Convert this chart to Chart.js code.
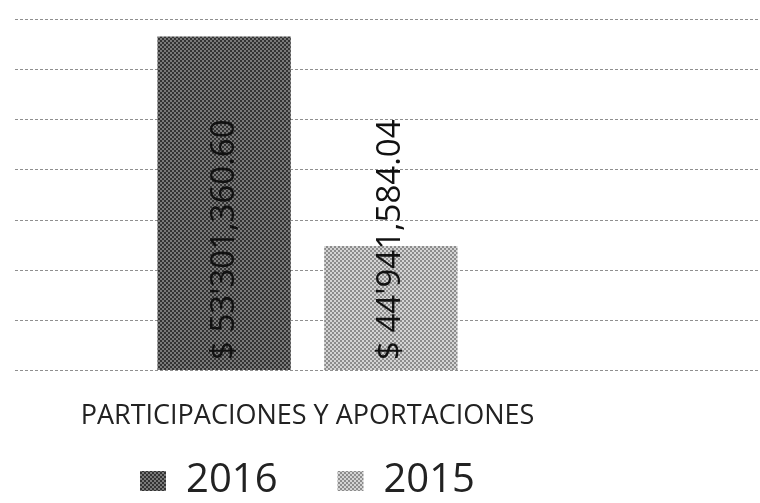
<!DOCTYPE html>
<html>
<head>
<meta charset="utf-8">
<script src="https://cdn.jsdelivr.net/npm/chart.js@4"></script>
<style>
  html, body { margin: 0; padding: 0; background: #fff; }
  #wrap { width: 760px; height: 503px; }
</style>
</head>
<body>
<div id="wrap"><canvas id="chart" width="760" height="503"></canvas></div>
<script>
// data
const categories = ['PARTICIPACIONES Y APORTACIONES'];
const seriesNames = ['2016', '2015'];
const values2016 = [53301360.60];
const values2015 = [44941584.04];
const yMin = 40000000;
const yMax = 54000000;
const yStep = 2000000;

// $ 53'301,360.60 style
function fmtMoney(v) {
  const parts = v.toFixed(2).split('.');
  const n = parseInt(parts[0], 10);
  const mill = Math.floor(n / 1000000);
  const thou = Math.floor((n % 1000000) / 1000);
  const units = n % 1000;
  const pad = x => String(x).padStart(3, '0');
  return '$ ' + mill + "'" + pad(thou) + ',' + pad(units) + '.' + parts[1];
}

// halftone-ish fill like the scan
function makePattern(dark, light) {
  const c = document.createElement('canvas');
  c.width = 4; c.height = 4;
  const g = c.getContext('2d');
  g.fillStyle = light;
  g.fillRect(0, 0, 4, 4);
  g.fillStyle = dark;
  g.fillRect(0, 0, 2, 2);
  g.fillRect(2, 2, 2, 2);
  return g.createPattern(c, 'repeat');
}
const fill2016 = makePattern('#333333', '#7a7a7a');
const fill2015 = makePattern('#8c8c8c', '#d4d4d4');

const FONT = '"Open Sans", "Liberation Sans", sans-serif';

// dashed grid lines that run to the right edge of the page
const gridPlugin = {
  id: 'wideGrid',
  beforeDatasetsDraw(chart) {
    const ctx = chart.ctx;
    const y = chart.scales.y;
    ctx.save();
    ctx.strokeStyle = '#8f8f8f';
    ctx.lineWidth = 1;
    ctx.setLineDash([3, 2]);
    for (let v = yMin; v <= yMax; v += yStep) {
      const py = Math.round(y.getPixelForValue(v)) + 0.5;
      ctx.beginPath();
      ctx.moveTo(chart.chartArea.left, py);
      ctx.lineTo(chart.width, py);
      ctx.stroke();
    }
    ctx.restore();
  }
};

// vertical value labels sitting at the base of each bar
const labelPlugin = {
  id: 'barLabels',
  afterDraw(chart) {
    const ctx = chart.ctx;
    const baseY = chart.scales.y.getPixelForValue(yMin);
    ctx.save();
    ctx.fillStyle = '#111';
    ctx.font = '33px ' + FONT;
    ctx.textAlign = 'left';
    ctx.textBaseline = 'middle';
    chart.data.datasets.forEach((ds, i) => {
      chart.getDatasetMeta(i).data.forEach((bar, j) => {
        const p = bar.getProps(['x'], true);
        ctx.save();
        ctx.translate(p.x, baseY - 10);
        ctx.rotate(-Math.PI / 2);
        ctx.fillText(fmtMoney(ds.data[j]), 0, 0);
        ctx.restore();
      });
    });
    ctx.restore();
  }
};

new Chart(document.getElementById('chart'), {
  type: 'bar',
  data: {
    labels: categories,
    datasets: [
      { label: seriesNames[0], data: values2016, backgroundColor: fill2016, borderWidth: 0 },
      { label: seriesNames[1], data: values2015, backgroundColor: fill2015, borderWidth: 0 }
    ]
  },
  options: {
    responsive: false,
    animation: false,
    layout: { padding: { left: 15, right: 160, top: 19, bottom: -8 } },
    datasets: { bar: { categoryPercentage: 0.57, barPercentage: 0.8 } },
    plugins: {
      tooltip: { enabled: false },
      legend: {
        position: 'bottom',
        labels: {
          color: '#222',
          font: { family: FONT, size: 40 },
          boxWidth: 26,
          boxHeight: 20,
          padding: 60
        }
      }
    },
    scales: {
      x: {
        grid: { display: false },
        border: { display: false },
        ticks: { color: '#222', font: { family: FONT, size: 27 }, padding: 22 },
        // keep the axis short so the legend can sit lower; let the label overflow
        afterFit(scale) {
          scale.height = 31;
          scale._computeLabelArea = () => null;
        }
      },
      y: {
        min: yMin,
        max: yMax,
        ticks: { display: false, stepSize: yStep },
        grid: { display: false, drawTicks: false },
        border: { display: false }
      }
    }
  },
  plugins: [gridPlugin, labelPlugin]
});
</script>
</body>
</html>
